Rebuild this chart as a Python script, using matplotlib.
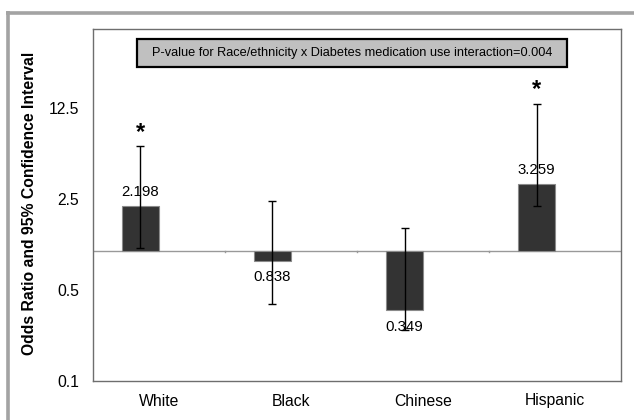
import matplotlib
matplotlib.use("Agg")
import matplotlib.pyplot as plt
from matplotlib import font_manager
from matplotlib.lines import Line2D
from matplotlib.patches import Rectangle
import numpy as np

groups = ["White", "Black", "Chinese", "Hispanic"]
odds_ratio = [2.198, 0.838, 0.349, 3.259]
ci_lower = [1.04, 0.39, 0.245, 2.21]
ci_upper = [6.3, 2.41, 1.49, 13.4]
significant = [True, False, False, True]
value_labels = ["2.198", "0.838", "0.349", "3.259"]
y_ticks = [0.1, 0.5, 2.5, 12.5]
y_tick_labels = ["0.1", "0.5", "2.5", "12.5"]
note = "P-value for Race/ethnicity x Diabetes medication use interaction=0.004"
y_title = "Odds Ratio and 95% Confidence Interval"

names = {f.name for f in font_manager.fontManager.ttflist}
base_font = "Liberation Sans" if "Liberation Sans" in names else "DejaVu Sans"
plt.rcParams["font.family"] = [base_font, "DejaVu Sans"]

W, H = 634, 420
fig = plt.figure(figsize=(W / 100, H / 100), dpi=100)
ax_l, ax_r, ax_t, ax_b = 92.7, 621.3, 29.0, 381.0
ax = fig.add_axes([ax_l / W, 1 - ax_b / H, (ax_r - ax_l) / W, (ax_b - ax_t) / H])

# outer frame (top and left edges)
frame_col = "#a3a3a3"
fig.add_artist(Line2D([6 / W, 1.0], [1 - 12.5 / H, 1 - 12.5 / H], transform=fig.transFigure,
                      color=frame_col, lw=2.6, solid_capstyle="butt"))
fig.add_artist(Line2D([7.5 / W, 7.5 / W], [0.0, 1 - 11 / H], transform=fig.transFigure,
                      color=frame_col, lw=2.6, solid_capstyle="butt"))

ax.set_yscale("log")
ax.set_ylim(0.1, 50)
ax.set_xlim(-0.5, 3.5)

x = np.arange(len(groups))
bar_x = x - 0.14
ratios = np.array(odds_ratio)
heights = ratios - 1.0
ax.bar(bar_x, heights, bottom=1.0, width=0.28, color="#333333",
       edgecolor="#8a8a8a", linewidth=0.8, zorder=3)

# reference line at OR = 1
ax.axhline(1.0, color="#999999", lw=1.0, zorder=2)
for b in [0.5, 1.5, 2.5]:
    ax.plot([b, b], [1.0, 0.975], color="#999999", lw=1.0, zorder=2)

lo = ratios - np.array(ci_lower)
hi = np.array(ci_upper) - ratios
ax.errorbar(bar_x, ratios, yerr=[lo, hi], fmt="none", ecolor="black",
            elinewidth=1.0, capsize=3, capthick=1.0, zorder=4)

for xi, r, lab in zip(bar_x, ratios, value_labels):
    dy = 10 if r >= 1 else -12
    ax.annotate(lab, (xi, r), xytext=(0, dy), textcoords="offset points",
                ha="center", va="center", fontsize=10.8, zorder=5)

for xi, up, sig in zip(bar_x, ci_upper, significant):
    if sig:
        ax.annotate("*", (xi, up), xytext=(0, 10), textcoords="offset points",
                    ha="center", va="center", fontsize=17, fontweight="bold")

ax.set_yticks(y_ticks)
ax.set_yticklabels(y_tick_labels)
ax.yaxis.set_minor_locator(matplotlib.ticker.NullLocator())
ax.set_xticks(x)
ax.set_xticklabels(groups)
ax.tick_params(axis="both", length=0, labelsize=11.3)
ax.tick_params(axis="y", pad=10)
ax.tick_params(axis="x", pad=9)

for side in ["left", "bottom", "top", "right"]:
    ax.spines[side].set_color("#6e6e6e")
    ax.spines[side].set_linewidth(1.0)

fig.text(30 / W, 1 - 203.5 / H, y_title, rotation=90, ha="center", va="center",
         fontsize=11.3, fontweight="bold")

# interaction note in a grey box
box_l, box_r, box_t, box_b = 137.0, 567.0, 39.0, 67.0
fig.add_artist(Rectangle((box_l / W, 1 - box_b / H), (box_r - box_l) / W, (box_b - box_t) / H,
                         transform=fig.transFigure, facecolor="#c0c0c0",
                         edgecolor="black", linewidth=1.6, zorder=6))
txt = fig.text((box_l + box_r) / 2 / W, 1 - (box_t + box_b) / 2 / H, note,
               ha="center", va="center", fontsize=10, zorder=7)
renderer = fig.canvas.get_renderer()
w = txt.get_window_extent(renderer).width
txt.set_fontsize(10 * 401.0 / w)

fig.savefig("out.png", dpi=100)
